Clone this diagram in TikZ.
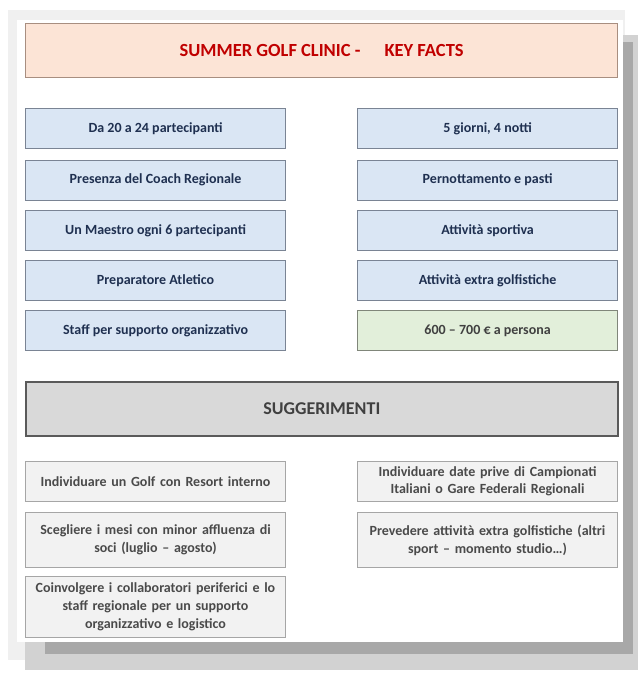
\documentclass[tikz,border=0pt]{standalone}
\usepackage{fontspec}
\setmainfont{Carlito}
\definecolor{titlefill}{HTML}{FCE4D6}
\definecolor{titledraw}{HTML}{A88E80}
\definecolor{titletext}{HTML}{C00000}
\definecolor{bluefill}{HTML}{DAE6F4}
\definecolor{bluedraw}{HTML}{7A8494}
\definecolor{bluetext}{HTML}{1F3050}
\definecolor{greenfill}{HTML}{E2EFDA}
\definecolor{greendraw}{HTML}{80867A}
\definecolor{sugfill}{HTML}{D9D9D9}
\definecolor{sugdraw}{HTML}{5A5A5A}
\definecolor{tipfill}{HTML}{F2F2F2}
\definecolor{tipdraw}{HTML}{A6A6A6}
\definecolor{tiptext}{HTML}{4A4A4A}
\definecolor{shadowdark}{HTML}{A8A8A8}
\definecolor{shadowlight}{HTML}{D2D2D2}
\definecolor{edgegray}{HTML}{F0F0F0}
\tikzset{
  basebox/.style={anchor=north west, inner sep=2pt, align=center},
  titlebox/.style={basebox, fill=titlefill, draw=titledraw, line width=1.2pt,
    minimum width=592pt, minimum height=54pt, text=titletext,
    font=\fontsize{18.5}{21}\selectfont\bfseries},
  factbox/.style={basebox, fill=bluefill, draw=bluedraw, line width=1.2pt,
    minimum width=260pt, minimum height=40pt, text=bluetext,
    font=\fontsize{14}{16}\selectfont\bfseries},
  pricebox/.style={factbox, fill=greenfill, draw=greendraw, text=black!75},
  sugbox/.style={basebox, fill=sugfill, draw=sugdraw, line width=1.6pt,
    minimum width=592pt, minimum height=54pt, text=black!75,
    font=\fontsize{18}{21}\selectfont\bfseries},
  tipbox/.style={basebox, fill=tipfill, draw=tipdraw, line width=1pt,
    minimum width=260pt, text width=252pt, text=tiptext,
    font=\fontsize{14}{18}\selectfont\bfseries}
}
\begin{document}
\begin{tikzpicture}[x=1pt,y=-1pt]
\useasboundingbox (0,0) rectangle (638,675);
\fill[white] (0,0) rectangle (638,675);
% page edges and shadow
\fill[edgegray] (8,10) rectangle (625,660);
\fill[shadowlight] (623,35) rectangle (638,670);
\fill[shadowlight] (25,642) rectangle (638,670);
\fill[shadowdark] (623,42) rectangle (633,654);
\fill[shadowdark] (45,642) rectangle (633,654);
\fill[white] (17,20) rectangle (623,642);
% title
\node[titlebox] (title) at (25,23) {SUMMER GOLF CLINIC -\hspace{1.3em}KEY FACTS};
% key facts left
\node[factbox] (l1) at (25,108) {Da 20 a 24 partecipanti};
\node[factbox] (l2) at (25,159.5) {Presenza del Coach Regionale};
\node[factbox] (l3) at (25,210) {Un Maestro ogni 6 partecipanti};
\node[factbox] (l4) at (25,260) {Preparatore Atletico};
\node[factbox] (l5) at (25,310) {Staff per supporto organizzativo};
% key facts right
\node[factbox] (r1) at (357,108) {5 giorni, 4 notti};
\node[factbox] (r2) at (357,159.5) {Pernottamento e pasti};
\node[factbox] (r3) at (357,210) {Attività sportiva};
\node[factbox] (r4) at (357,260) {Attività extra golfistiche};
\node[pricebox] (r5) at (357,310) {600 – 700 € a persona};
% suggerimenti
\node[sugbox] (sug) at (25,381) {SUGGERIMENTI};
% tips left
\node[tipbox, minimum height=40pt] (t1) at (25,461) {Individuare un Golf con Resort interno};
\node[tipbox, minimum height=55pt] (t2) at (25,512) {Scegliere i mesi con minor affluenza di\\soci (luglio – agosto)};
\node[tipbox, minimum height=61pt] (t3) at (25,576) {Coinvolgere i collaboratori periferici e lo\\staff regionale per un supporto\\organizzativo e logistico};
% tips right
\node[tipbox, minimum height=40pt, font=\fontsize{14}{17}\selectfont\bfseries] (u1) at (357,461) {Individuare date prive di Campionati\\Italiani o Gare Federali Regionali};
\node[tipbox, minimum height=55pt] (u2) at (357,512) {Prevedere attività extra golfistiche (altri\\sport – momento studio…)};
\end{tikzpicture}
\end{document}
